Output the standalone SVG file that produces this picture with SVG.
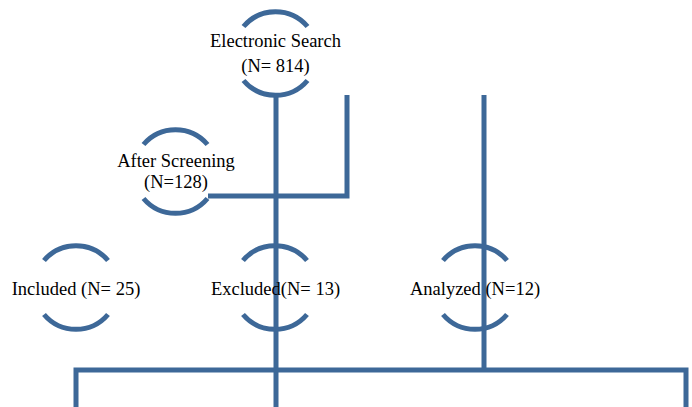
<svg xmlns="http://www.w3.org/2000/svg" width="692" height="407" viewBox="0 0 692 407">
  <style>
    .line { fill: none; stroke: #3D6898; stroke-width: 5; stroke-linejoin: miter; }
    .arc { fill: none; stroke: #3D6898; stroke-width: 5; }
    .label { font-family: "Liberation Serif", "Times New Roman", serif; font-size: 18.5px; fill: #000; text-anchor: middle; }
  </style>
  <rect width="692" height="407" fill="#fff"/>

  <!-- connectors -->
  <g id="connectors">
    <path class="line" d="M276 95 V407"/>
    <path class="line" d="M347 95 V196 H208"/>
    <path class="line" d="M484 95 V370"/>
    <path class="line" d="M76 407 V370 H686 V407"/>
  </g>

  <g id="electronic-search">
    <path class="arc" d="M243.5 26.5 A42 42 0 0 1 307.5 26.5"/>
    <path class="arc" d="M243.5 80.5 A42 42 0 0 0 307.5 80.5"/>
    <text class="label" x="275.5" y="47">Electronic Search</text>
    <text class="label" x="275.5" y="72">(N= 814)</text>
  </g>

  <g id="after-screening">
    <path class="arc" d="M143.5 144.5 A42 42 0 0 1 207.5 144.5"/>
    <path class="arc" d="M143.5 198.5 A42 42 0 0 0 207.5 198.5"/>
    <text class="label" x="176" y="167">After Screening</text>
    <text class="label" x="176" y="188">(N=128)</text>
  </g>

  <g id="included">
    <path class="arc" d="M44 260.5 A42 42 0 0 1 108 260.5"/>
    <path class="arc" d="M44 314.5 A42 42 0 0 0 108 314.5"/>
    <text class="label" x="76" y="295">Included (N= 25)</text>
  </g>

  <g id="excluded">
    <path class="arc" d="M243 260.5 A42 42 0 0 1 307 260.5"/>
    <path class="arc" d="M243 314.5 A42 42 0 0 0 307 314.5"/>
    <text class="label" x="275.5" y="295">Excluded(N= 13)</text>
  </g>

  <g id="analyzed">
    <path class="arc" d="M443 260.5 A42 42 0 0 1 507 260.5"/>
    <path class="arc" d="M443 314.5 A42 42 0 0 0 507 314.5"/>
    <text class="label" x="475" y="295">Analyzed (N=12)</text>
  </g>
</svg>
